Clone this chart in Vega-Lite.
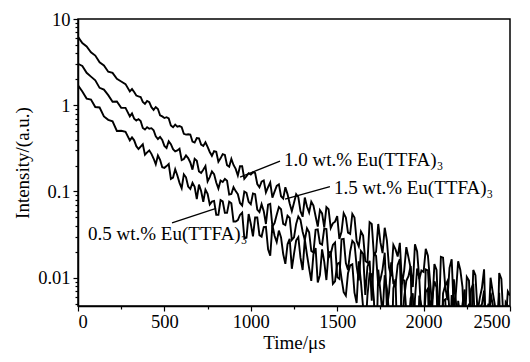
{
"$schema": "https://vega.github.io/schema/vega-lite/v6.json",
"width": 432, "height": 287,
"autosize": {"type": "none"},
"padding": {"left": 78, "top": 19, "right": 20, "bottom": 56},
"background": "white",
"config": {
  "view": {"stroke": "black", "strokeWidth": 1.5},
  "font": "Liberation Serif",
  "axis": {"grid": false, "domainColor": "black", "domainWidth": 1.5, "tickColor": "black", "tickWidth": 1.2, "labelColor": "black", "titleColor": "black", "labelFont": "Liberation Serif", "titleFont": "Liberation Serif", "labelFontSize": 18.5, "titleFontSize": 19, "titleFontWeight": "normal", "labelOverlap": false}
},
"datasets": {
"decay": [
{"s":"1.0","t":0,"v":6.22},{"s":"1.0","t":25,"v":5.26},{"s":"1.0","t":50,"v":4.81},{"s":"1.0","t":75,"v":4.115},{"s":"1.0","t":100,"v":3.763},{"s":"1.0","t":125,"v":3.153},{"s":"1.0","t":150,"v":2.897},{"s":"1.0","t":175,"v":2.447},{"s":"1.0","t":200,"v":2.373},{"s":"1.0","t":225,"v":2.021},{"s":"1.0","t":250,"v":1.883},{"s":"1.0","t":275,"v":1.759},{"s":"1.0","t":300,"v":1.448},{"s":"1.0","t":325,"v":1.424},{"s":"1.0","t":350,"v":1.265},{"s":"1.0","t":375,"v":1.093},{"s":"1.0","t":400,"v":1.12},{"s":"1.0","t":425,"v":0.949},{"s":"1.0","t":450,"v":0.953},{"s":"1.0","t":475,"v":0.765},{"s":"1.0","t":500,"v":0.711},{"s":"1.0","t":525,"v":0.703},{"s":"1.0","t":550,"v":0.556},{"s":"1.0","t":575,"v":0.565},{"s":"1.0","t":600,"v":0.557},{"s":"1.0","t":625,"v":0.457},{"s":"1.0","t":650,"v":0.457},{"s":"1.0","t":675,"v":0.369},{"s":"1.0","t":700,"v":0.414},{"s":"1.0","t":725,"v":0.338},{"s":"1.0","t":750,"v":0.329},{"s":"1.0","t":775,"v":0.259},{"s":"1.0","t":800,"v":0.289},{"s":"1.0","t":825,"v":0.242},{"s":"1.0","t":850,"v":0.265},{"s":"1.0","t":875,"v":0.194},{"s":"1.0","t":900,"v":0.203},{"s":"1.0","t":925,"v":0.153},{"s":"1.0","t":950,"v":0.196},{"s":"1.0","t":975,"v":0.15},{"s":"1.0","t":1000,"v":0.157},{"s":"1.0","t":1025,"v":0.164},{"s":"1.0","t":1050,"v":0.112},{"s":"1.0","t":1075,"v":0.134},{"s":"1.0","t":1100,"v":0.112},{"s":"1.0","t":1125,"v":0.085},{"s":"1.0","t":1150,"v":0.116},{"s":"1.0","t":1175,"v":0.088},{"s":"1.0","t":1200,"v":0.112},{"s":"1.0","t":1225,"v":0.0726},{"s":"1.0","t":1250,"v":0.0742},{"s":"1.0","t":1275,"v":0.0862},{"s":"1.0","t":1300,"v":0.0509},{"s":"1.0","t":1325,"v":0.0669},{"s":"1.0","t":1350,"v":0.0762},{"s":"1.0","t":1375,"v":0.0517},{"s":"1.0","t":1400,"v":0.0608},{"s":"1.0","t":1425,"v":0.0383},{"s":"1.0","t":1450,"v":0.0623},{"s":"1.0","t":1475,"v":0.0428},{"s":"1.0","t":1500,"v":0.052},{"s":"1.0","t":1525,"v":0.034},{"s":"1.0","t":1550,"v":0.05},{"s":"1.0","t":1575,"v":0.0322},{"s":"1.0","t":1600,"v":0.05},{"s":"1.0","t":1625,"v":0.0231},{"s":"1.0","t":1650,"v":0.0308},{"s":"1.0","t":1675,"v":0.015},{"s":"1.0","t":1700,"v":0.042},{"s":"1.0","t":1725,"v":0.02},{"s":"1.0","t":1750,"v":0.0258},{"s":"1.0","t":1775,"v":0.038},{"s":"1.0","t":1800,"v":0.0131},{"s":"1.0","t":1825,"v":0.024},{"s":"1.0","t":1850,"v":0.0176},{"s":"1.0","t":1875,"v":0.0084},{"s":"1.0","t":1900,"v":0.0226},{"s":"1.0","t":1925,"v":0.0129},{"s":"1.0","t":1950,"v":0.0244},{"s":"1.0","t":1975,"v":0.0096},{"s":"1.0","t":2000,"v":0.0117},{"s":"1.0","t":2025,"v":0.018},{"s":"1.0","t":2050,"v":0.0045},{"s":"1.0","t":2075,"v":0.0123},{"s":"1.0","t":2100,"v":0.0175},{"s":"1.0","t":2125,"v":0.008},{"s":"1.0","t":2150,"v":0.013},{"s":"1.0","t":2175,"v":0.0042},{"s":"1.0","t":2200,"v":0.0155},{"s":"1.0","t":2225,"v":0.0078},{"s":"1.0","t":2250,"v":0.0102},{"s":"1.0","t":2275,"v":0.0023},{"s":"1.0","t":2300,"v":0.0107},{"s":"1.0","t":2325,"v":0.0058},{"s":"1.0","t":2350,"v":0.0125},{"s":"1.0","t":2375,"v":0.0027},{"s":"1.0","t":2400,"v":0.0068},{"s":"1.0","t":2425,"v":0.001},{"s":"1.0","t":2450,"v":0.0097},{"s":"1.0","t":2475,"v":0.0031},{"s":"1.0","t":2500,"v":0.0062},
{"s":"1.0","t":312.5,"v":1.539},{"s":"1.0","t":337.5,"v":1.295},{"s":"1.0","t":362.5,"v":1.247},{"s":"1.0","t":387.5,"v":1.039},{"s":"1.0","t":412.5,"v":1.084},{"s":"1.0","t":437.5,"v":0.883},{"s":"1.0","t":462.5,"v":0.904},{"s":"1.0","t":487.5,"v":0.742},{"s":"1.0","t":512.5,"v":0.727},{"s":"1.0","t":537.5,"v":0.583},{"s":"1.0","t":562.5,"v":0.597},{"s":"1.0","t":587.5,"v":0.575},{"s":"1.0","t":612.5,"v":0.466},{"s":"1.0","t":637.5,"v":0.46},{"s":"1.0","t":662.5,"v":0.38},{"s":"1.0","t":687.5,"v":0.417},{"s":"1.0","t":712.5,"v":0.349},{"s":"1.0","t":737.5,"v":0.372},{"s":"1.0","t":762.5,"v":0.287},{"s":"1.0","t":787.5,"v":0.293},{"s":"1.0","t":812.5,"v":0.221},{"s":"1.0","t":837.5,"v":0.271},{"s":"1.0","t":862.5,"v":0.202},{"s":"1.0","t":887.5,"v":0.239},{"s":"1.0","t":912.5,"v":0.183},{"s":"1.0","t":937.5,"v":0.196},{"s":"1.0","t":962.5,"v":0.14},{"s":"1.0","t":987.5,"v":0.163},{"s":"1.0","t":1012.5,"v":0.167},{"s":"1.0","t":1037.5,"v":0.122},{"s":"1.0","t":1062.5,"v":0.13},{"s":"1.0","t":1087.5,"v":0.0977},{"s":"1.0","t":1112.5,"v":0.127},{"s":"1.0","t":1137.5,"v":0.0996},{"s":"1.0","t":1162.5,"v":0.121},{"s":"1.0","t":1187.5,"v":0.0827},{"s":"1.0","t":1212.5,"v":0.0932},{"s":"1.0","t":1237.5,"v":0.0591},{"s":"1.0","t":1262.5,"v":0.0931},{"s":"1.0","t":1287.5,"v":0.0591},{"s":"1.0","t":1312.5,"v":0.0851},{"s":"1.0","t":1337.5,"v":0.0572},{"s":"1.0","t":1362.5,"v":0.0685},{"s":"1.0","t":1387.5,"v":0.0392},{"s":"1.0","t":1412.5,"v":0.0556},{"s":"1.0","t":1437.5,"v":0.066},{"s":"1.0","t":1462.5,"v":0.0377},{"s":"1.0","t":1487.5,"v":0.0447},{"s":"1.0","t":1512.5,"v":0.0282},{"s":"1.0","t":1537.5,"v":0.056},{"s":"1.0","t":1562.5,"v":0.0333},{"s":"1.0","t":1587.5,"v":0.055},{"s":"1.0","t":1612.5,"v":0.0267},{"s":"1.0","t":1637.5,"v":0.0344},{"s":"1.0","t":1662.5,"v":0.0156},{"s":"1.0","t":1687.5,"v":0.044},{"s":"1.0","t":1712.5,"v":0.0182},{"s":"1.0","t":1737.5,"v":0.042},{"s":"1.0","t":1762.5,"v":0.0193},{"s":"1.0","t":1787.5,"v":0.0272},{"s":"1.0","t":1812.5,"v":0.0104},{"s":"1.0","t":1837.5,"v":0.0213},{"s":"1.0","t":1862.5,"v":0.0254},{"s":"1.0","t":1887.5,"v":0.0121},{"s":"1.0","t":1912.5,"v":0.0172},{"s":"1.0","t":1937.5,"v":0.0078},{"s":"1.0","t":1962.5,"v":0.0202},{"s":"1.0","t":1987.5,"v":0.0121},{"s":"1.0","t":2012.5,"v":0.0216},{"s":"1.0","t":2037.5,"v":0.0091},{"s":"1.0","t":2062.5,"v":0.0144},{"s":"1.0","t":2087.5,"v":0.0031},{"s":"1.0","t":2112.5,"v":0.0171},{"s":"1.0","t":2137.5,"v":0.0055},{"s":"1.0","t":2162.5,"v":0.0164},{"s":"1.0","t":2187.5,"v":0.0069},{"s":"1.0","t":2212.5,"v":0.0123},{"s":"1.0","t":2237.5,"v":0.002},{"s":"1.0","t":2262.5,"v":0.0093},{"s":"1.0","t":2287.5,"v":0.0123},{"s":"1.0","t":2312.5,"v":0.004},{"s":"1.0","t":2337.5,"v":0.0076},{"s":"1.0","t":2362.5,"v":0.0016},{"s":"1.0","t":2387.5,"v":0.01},{"s":"1.0","t":2412.5,"v":0.0048},{"s":"1.0","t":2437.5,"v":0.0113},{"s":"1.0","t":2462.5,"v":0.0032},{"s":"1.0","t":2487.5,"v":0.0069},
{"s":"1.5","t":0,"v":3.026},{"s":"1.5","t":25,"v":2.86},{"s":"1.5","t":50,"v":2.379},{"s":"1.5","t":75,"v":2.149},{"s":"1.5","t":100,"v":1.947},{"s":"1.5","t":125,"v":1.591},{"s":"1.5","t":150,"v":1.517},{"s":"1.5","t":175,"v":1.309},{"s":"1.5","t":200,"v":1.1},{"s":"1.5","t":225,"v":1.107},{"s":"1.5","t":250,"v":0.932},{"s":"1.5","t":275,"v":0.933},{"s":"1.5","t":300,"v":0.743},{"s":"1.5","t":325,"v":0.699},{"s":"1.5","t":350,"v":0.691},{"s":"1.5","t":375,"v":0.545},{"s":"1.5","t":400,"v":0.556},{"s":"1.5","t":425,"v":0.542},{"s":"1.5","t":450,"v":0.436},{"s":"1.5","t":475,"v":0.43},{"s":"1.5","t":500,"v":0.338},{"s":"1.5","t":525,"v":0.382},{"s":"1.5","t":550,"v":0.309},{"s":"1.5","t":575,"v":0.299},{"s":"1.5","t":600,"v":0.231},{"s":"1.5","t":625,"v":0.262},{"s":"1.5","t":650,"v":0.217},{"s":"1.5","t":675,"v":0.239},{"s":"1.5","t":700,"v":0.171},{"s":"1.5","t":725,"v":0.179},{"s":"1.5","t":750,"v":0.131},{"s":"1.5","t":775,"v":0.171},{"s":"1.5","t":800,"v":0.127},{"s":"1.5","t":825,"v":0.134},{"s":"1.5","t":850,"v":0.14},{"s":"1.5","t":875,"v":0.0921},{"s":"1.5","t":900,"v":0.112},{"s":"1.5","t":925,"v":0.093},{"s":"1.5","t":950,"v":0.0686},{"s":"1.5","t":975,"v":0.0964},{"s":"1.5","t":1000,"v":0.0711},{"s":"1.5","t":1025,"v":0.093},{"s":"1.5","t":1050,"v":0.0577},{"s":"1.5","t":1075,"v":0.0592},{"s":"1.5","t":1100,"v":0.0702},{"s":"1.5","t":1125,"v":0.0391},{"s":"1.5","t":1150,"v":0.0537},{"s":"1.5","t":1175,"v":0.0623},{"s":"1.5","t":1200,"v":0.0408},{"s":"1.5","t":1225,"v":0.0493},{"s":"1.5","t":1250,"v":0.0294},{"s":"1.5","t":1275,"v":0.0513},{"s":"1.5","t":1300,"v":0.0341},{"s":"1.5","t":1325,"v":0.0375},{"s":"1.5","t":1350,"v":0.0204},{"s":"1.5","t":1375,"v":0.0359},{"s":"1.5","t":1400,"v":0.025},{"s":"1.5","t":1425,"v":0.0371},{"s":"1.5","t":1450,"v":0.0171},{"s":"1.5","t":1475,"v":0.024},{"s":"1.5","t":1500,"v":0.0102},{"s":"1.5","t":1525,"v":0.0279},{"s":"1.5","t":1550,"v":0.0148},{"s":"1.5","t":1575,"v":0.0201},{"s":"1.5","t":1600,"v":0.025},{"s":"1.5","t":1625,"v":0.0093},{"s":"1.5","t":1650,"v":0.0189},{"s":"1.5","t":1675,"v":0.0134},{"s":"1.5","t":1700,"v":0.0054},{"s":"1.5","t":1725,"v":0.0179},{"s":"1.5","t":1750,"v":0.0095},{"s":"1.5","t":1775,"v":0.0195},{"s":"1.5","t":1800,"v":0.0067},{"s":"1.5","t":1825,"v":0.0086},{"s":"1.5","t":1850,"v":0.0141},{"s":"1.5","t":1875,"v":0.0025},{"s":"1.5","t":1900,"v":0.0092},{"s":"1.5","t":1925,"v":0.0137},{"s":"1.5","t":1950,"v":0.0057},{"s":"1.5","t":1975,"v":0.0099},{"s":"1.5","t":2000,"v":0.0024},{"s":"1.5","t":2025,"v":0.0122},{"s":"1.5","t":2050,"v":0.0057},{"s":"1.5","t":2075,"v":0.0077},{"s":"1.5","t":2100,"v":0.001},{"s":"1.5","t":2125,"v":0.0081},{"s":"1.5","t":2150,"v":0.004},{"s":"1.5","t":2175,"v":0.0096},{"s":"1.5","t":2200,"v":0.0014},{"s":"1.5","t":2225,"v":0.0049},{"s":"1.5","t":2250,"v":0.001},{"s":"1.5","t":2275,"v":0.0074},{"s":"1.5","t":2300,"v":0.0019},{"s":"1.5","t":2325,"v":0.0046},{"s":"1.5","t":2350,"v":0.0071},{"s":"1.5","t":2375,"v":0.001},{"s":"1.5","t":2400,"v":0.0049},{"s":"1.5","t":2425,"v":0.0026},{"s":"1.5","t":2450,"v":0.001},{"s":"1.5","t":2475,"v":0.0052},{"s":"1.5","t":2500,"v":0.0014},
{"s":"1.5","t":312.5,"v":0.804},{"s":"1.5","t":337.5,"v":0.664},{"s":"1.5","t":362.5,"v":0.656},{"s":"1.5","t":387.5,"v":0.522},{"s":"1.5","t":412.5,"v":0.535},{"s":"1.5","t":437.5,"v":0.513},{"s":"1.5","t":462.5,"v":0.406},{"s":"1.5","t":487.5,"v":0.396},{"s":"1.5","t":512.5,"v":0.32},{"s":"1.5","t":537.5,"v":0.353},{"s":"1.5","t":562.5,"v":0.292},{"s":"1.5","t":587.5,"v":0.313},{"s":"1.5","t":612.5,"v":0.238},{"s":"1.5","t":637.5,"v":0.244},{"s":"1.5","t":662.5,"v":0.179},{"s":"1.5","t":687.5,"v":0.227},{"s":"1.5","t":712.5,"v":0.164},{"s":"1.5","t":737.5,"v":0.197},{"s":"1.5","t":762.5,"v":0.147},{"s":"1.5","t":787.5,"v":0.159},{"s":"1.5","t":812.5,"v":0.108},{"s":"1.5","t":837.5,"v":0.129},{"s":"1.5","t":862.5,"v":0.133},{"s":"1.5","t":887.5,"v":0.0935},{"s":"1.5","t":912.5,"v":0.101},{"s":"1.5","t":937.5,"v":0.0736},{"s":"1.5","t":962.5,"v":0.0998},{"s":"1.5","t":987.5,"v":0.0759},{"s":"1.5","t":1012.5,"v":0.0949},{"s":"1.5","t":1037.5,"v":0.0618},{"s":"1.5","t":1062.5,"v":0.0713},{"s":"1.5","t":1087.5,"v":0.042},{"s":"1.5","t":1112.5,"v":0.0719},{"s":"1.5","t":1137.5,"v":0.043},{"s":"1.5","t":1162.5,"v":0.0659},{"s":"1.5","t":1187.5,"v":0.0422},{"s":"1.5","t":1212.5,"v":0.0525},{"s":"1.5","t":1237.5,"v":0.0274},{"s":"1.5","t":1262.5,"v":0.0421},{"s":"1.5","t":1287.5,"v":0.047},{"s":"1.5","t":1312.5,"v":0.0273},{"s":"1.5","t":1337.5,"v":0.0337},{"s":"1.5","t":1362.5,"v":0.0196},{"s":"1.5","t":1387.5,"v":0.0363},{"s":"1.5","t":1412.5,"v":0.0242},{"s":"1.5","t":1437.5,"v":0.0367},{"s":"1.5","t":1462.5,"v":0.0188},{"s":"1.5","t":1487.5,"v":0.0256},{"s":"1.5","t":1512.5,"v":0.0097},{"s":"1.5","t":1537.5,"v":0.0282},{"s":"1.5","t":1562.5,"v":0.0123},{"s":"1.5","t":1587.5,"v":0.0267},{"s":"1.5","t":1612.5,"v":0.0135},{"s":"1.5","t":1637.5,"v":0.0204},{"s":"1.5","t":1662.5,"v":0.0063},{"s":"1.5","t":1687.5,"v":0.0157},{"s":"1.5","t":1712.5,"v":0.0193},{"s":"1.5","t":1737.5,"v":0.0081},{"s":"1.5","t":1762.5,"v":0.0125},{"s":"1.5","t":1787.5,"v":0.0045},{"s":"1.5","t":1812.5,"v":0.0151},{"s":"1.5","t":1837.5,"v":0.0083},{"s":"1.5","t":1862.5,"v":0.0164},{"s":"1.5","t":1887.5,"v":0.0059},{"s":"1.5","t":1912.5,"v":0.0104},{"s":"1.5","t":1937.5,"v":0.0011},{"s":"1.5","t":1962.5,"v":0.0128},{"s":"1.5","t":1987.5,"v":0.0032},{"s":"1.5","t":2012.5,"v":0.0125},{"s":"1.5","t":2037.5,"v":0.0046},{"s":"1.5","t":2062.5,"v":0.0091},{"s":"1.5","t":2087.5,"v":0.001},{"s":"1.5","t":2112.5,"v":0.0066},{"s":"1.5","t":2137.5,"v":0.0091},{"s":"1.5","t":2162.5,"v":0.0022},{"s":"1.5","t":2187.5,"v":0.0052},{"s":"1.5","t":2212.5,"v":0.001},{"s":"1.5","t":2237.5,"v":0.0073},{"s":"1.5","t":2262.5,"v":0.0031},{"s":"1.5","t":2287.5,"v":0.0085},{"s":"1.5","t":2312.5,"v":0.0018},{"s":"1.5","t":2337.5,"v":0.0049},{"s":"1.5","t":2362.5,"v":0.001},{"s":"1.5","t":2387.5,"v":0.0067},{"s":"1.5","t":2412.5,"v":0.001},{"s":"1.5","t":2437.5,"v":0.0067},{"s":"1.5","t":2462.5,"v":0.0016},{"s":"1.5","t":2487.5,"v":0.0047},
{"s":"0.5","t":0,"v":1.699},{"s":"0.5","t":25,"v":1.444},{"s":"0.5","t":50,"v":1.194},{"s":"0.5","t":75,"v":1.164},{"s":"0.5","t":100,"v":0.954},{"s":"0.5","t":125,"v":0.942},{"s":"0.5","t":150,"v":0.742},{"s":"0.5","t":175,"v":0.678},{"s":"0.5","t":200,"v":0.652},{"s":"0.5","t":225,"v":0.503},{"s":"0.5","t":250,"v":0.506},{"s":"0.5","t":275,"v":0.493},{"s":"0.5","t":300,"v":0.392},{"s":"0.5","t":325,"v":0.392},{"s":"0.5","t":350,"v":0.311},{"s":"0.5","t":375,"v":0.353},{"s":"0.5","t":400,"v":0.284},{"s":"0.5","t":425,"v":0.273},{"s":"0.5","t":450,"v":0.207},{"s":"0.5","t":475,"v":0.233},{"s":"0.5","t":500,"v":0.188},{"s":"0.5","t":525,"v":0.208},{"s":"0.5","t":550,"v":0.145},{"s":"0.5","t":575,"v":0.153},{"s":"0.5","t":600,"v":0.109},{"s":"0.5","t":625,"v":0.146},{"s":"0.5","t":650,"v":0.107},{"s":"0.5","t":675,"v":0.113},{"s":"0.5","t":700,"v":0.12},{"s":"0.5","t":725,"v":0.0759},{"s":"0.5","t":750,"v":0.094},{"s":"0.5","t":775,"v":0.0763},{"s":"0.5","t":800,"v":0.0537},{"s":"0.5","t":825,"v":0.0793},{"s":"0.5","t":850,"v":0.0566},{"s":"0.5","t":875,"v":0.0763},{"s":"0.5","t":900,"v":0.0448},{"s":"0.5","t":925,"v":0.0466},{"s":"0.5","t":950,"v":0.0568},{"s":"0.5","t":975,"v":0.0291},{"s":"0.5","t":1000,"v":0.0422},{"s":"0.5","t":1025,"v":0.0499},{"s":"0.5","t":1050,"v":0.0312},{"s":"0.5","t":1075,"v":0.0387},{"s":"0.5","t":1100,"v":0.0214},{"s":"0.5","t":1125,"v":0.0409},{"s":"0.5","t":1150,"v":0.0259},{"s":"0.5","t":1175,"v":0.0293},{"s":"0.5","t":1200,"v":0.0145},{"s":"0.5","t":1225,"v":0.0283},{"s":"0.5","t":1250,"v":0.0189},{"s":"0.5","t":1275,"v":0.0295},{"s":"0.5","t":1300,"v":0.0123},{"s":"0.5","t":1325,"v":0.0185},{"s":"0.5","t":1350,"v":0.0092},{"s":"0.5","t":1375,"v":0.0221},{"s":"0.5","t":1400,"v":0.0107},{"s":"0.5","t":1425,"v":0.0154},{"s":"0.5","t":1450,"v":0.0196},{"s":"0.5","t":1475,"v":0.0085},{"s":"0.5","t":1500,"v":0.0145},{"s":"0.5","t":1525,"v":0.0098},{"s":"0.5","t":1550,"v":0.0062},{"s":"0.5","t":1575,"v":0.0139},{"s":"0.5","t":1600,"v":0.0067},{"s":"0.5","t":1625,"v":0.0155},{"s":"0.5","t":1650,"v":0.0045},{"s":"0.5","t":1675,"v":0.0062},{"s":"0.5","t":1700,"v":0.011},{"s":"0.5","t":1725,"v":0.001},{"s":"0.5","t":1750,"v":0.0069},{"s":"0.5","t":1775,"v":0.0107},{"s":"0.5","t":1800,"v":0.0039},{"s":"0.5","t":1825,"v":0.0075},{"s":"0.5","t":1850,"v":0.0012},{"s":"0.5","t":1875,"v":0.0095},{"s":"0.5","t":1900,"v":0.004},{"s":"0.5","t":1925,"v":0.0058},{"s":"0.5","t":1950,"v":0.001},{"s":"0.5","t":1975,"v":0.0062},{"s":"0.5","t":2000,"v":0.0027},{"s":"0.5","t":2025,"v":0.0075},{"s":"0.5","t":2050,"v":0.001},{"s":"0.5","t":2075,"v":0.0035},{"s":"0.5","t":2100,"v":0.001},{"s":"0.5","t":2125,"v":0.0056},{"s":"0.5","t":2150,"v":0.0011},{"s":"0.5","t":2175,"v":0.0033},{"s":"0.5","t":2200,"v":0.0054},{"s":"0.5","t":2225,"v":0.001},{"s":"0.5","t":2250,"v":0.0036},{"s":"0.5","t":2275,"v":0.0017},{"s":"0.5","t":2300,"v":0.001},{"s":"0.5","t":2325,"v":0.0039},{"s":"0.5","t":2350,"v":0.001},{"s":"0.5","t":2375,"v":0.005},{"s":"0.5","t":2400,"v":0.001},{"s":"0.5","t":2425,"v":0.001},{"s":"0.5","t":2450,"v":0.0033},{"s":"0.5","t":2475,"v":0.001},{"s":"0.5","t":2500,"v":0.0017},
{"s":"0.5","t":312.5,"v":0.424},{"s":"0.5","t":337.5,"v":0.335},{"s":"0.5","t":362.5,"v":0.332},{"s":"0.5","t":387.5,"v":0.267},{"s":"0.5","t":412.5,"v":0.299},{"s":"0.5","t":437.5,"v":0.241},{"s":"0.5","t":462.5,"v":0.261},{"s":"0.5","t":487.5,"v":0.191},{"s":"0.5","t":512.5,"v":0.197},{"s":"0.5","t":537.5,"v":0.14},{"s":"0.5","t":562.5,"v":0.181},{"s":"0.5","t":587.5,"v":0.126},{"s":"0.5","t":612.5,"v":0.158},{"s":"0.5","t":637.5,"v":0.114},{"s":"0.5","t":662.5,"v":0.126},{"s":"0.5","t":687.5,"v":0.0816},{"s":"0.5","t":712.5,"v":0.101},{"s":"0.5","t":737.5,"v":0.105},{"s":"0.5","t":762.5,"v":0.0708},{"s":"0.5","t":787.5,"v":0.0777},{"s":"0.5","t":812.5,"v":0.0536},{"s":"0.5","t":837.5,"v":0.0766},{"s":"0.5","t":862.5,"v":0.0565},{"s":"0.5","t":887.5,"v":0.073},{"s":"0.5","t":912.5,"v":0.0449},{"s":"0.5","t":937.5,"v":0.0535},{"s":"0.5","t":962.5,"v":0.0288},{"s":"0.5","t":987.5,"v":0.0547},{"s":"0.5","t":1012.5,"v":0.0301},{"s":"0.5","t":1037.5,"v":0.05},{"s":"0.5","t":1062.5,"v":0.03},{"s":"0.5","t":1087.5,"v":0.0389},{"s":"0.5","t":1112.5,"v":0.018},{"s":"0.5","t":1137.5,"v":0.0307},{"s":"0.5","t":1162.5,"v":0.0352},{"s":"0.5","t":1187.5,"v":0.0188},{"s":"0.5","t":1212.5,"v":0.0244},{"s":"0.5","t":1237.5,"v":0.0127},{"s":"0.5","t":1262.5,"v":0.0272},{"s":"0.5","t":1287.5,"v":0.0171},{"s":"0.5","t":1312.5,"v":0.0279},{"s":"0.5","t":1337.5,"v":0.0129},{"s":"0.5","t":1362.5,"v":0.0188},{"s":"0.5","t":1387.5,"v":0.0088},{"s":"0.5","t":1412.5,"v":0.0213},{"s":"0.5","t":1437.5,"v":0.0094},{"s":"0.5","t":1462.5,"v":0.02},{"s":"0.5","t":1487.5,"v":0.0091},{"s":"0.5","t":1512.5,"v":0.0149},{"s":"0.5","t":1537.5,"v":0.0068},{"s":"0.5","t":1562.5,"v":0.0113},{"s":"0.5","t":1587.5,"v":0.0143},{"s":"0.5","t":1612.5,"v":0.0051},{"s":"0.5","t":1637.5,"v":0.0089},{"s":"0.5","t":1662.5,"v":0.0023},{"s":"0.5","t":1687.5,"v":0.0112},{"s":"0.5","t":1712.5,"v":0.0056},{"s":"0.5","t":1737.5,"v":0.0124},{"s":"0.5","t":1762.5,"v":0.0037},{"s":"0.5","t":1787.5,"v":0.0075},{"s":"0.5","t":1812.5,"v":0.001},{"s":"0.5","t":1837.5,"v":0.0096},{"s":"0.5","t":1862.5,"v":0.0016},{"s":"0.5","t":1887.5,"v":0.0093},{"s":"0.5","t":1912.5,"v":0.0028},{"s":"0.5","t":1937.5,"v":0.0066},{"s":"0.5","t":1962.5,"v":0.001},{"s":"0.5","t":1987.5,"v":0.0047},{"s":"0.5","t":2012.5,"v":0.0068},{"s":"0.5","t":2037.5,"v":0.0011},{"s":"0.5","t":2062.5,"v":0.0036},{"s":"0.5","t":2087.5,"v":0.001},{"s":"0.5","t":2112.5,"v":0.0054},{"s":"0.5","t":2137.5,"v":0.0019},{"s":"0.5","t":2162.5,"v":0.0063},{"s":"0.5","t":2187.5,"v":0.001},{"s":"0.5","t":2212.5,"v":0.0035},{"s":"0.5","t":2237.5,"v":0.001},{"s":"0.5","t":2262.5,"v":0.005},{"s":"0.5","t":2287.5,"v":0.001},{"s":"0.5","t":2312.5,"v":0.005},{"s":"0.5","t":2337.5,"v":0.001},{"s":"0.5","t":2362.5,"v":0.0034},{"s":"0.5","t":2387.5,"v":0.001},{"s":"0.5","t":2412.5,"v":0.0022},{"s":"0.5","t":2437.5,"v":0.0037},{"s":"0.5","t":2462.5,"v":0.001},{"s":"0.5","t":2487.5,"v":0.0017}
],
"labels": [
{"label":"1.0 wt.% Eu(TTFA)₃","t":1192,"v":0.23},
{"label":"1.5 wt.% Eu(TTFA)₃","t":1481,"v":0.11},
{"label":"0.5 wt.% Eu(TTFA)₃","t":58,"v":0.0323}
],
"arrows": [
{"t":1169,"v":0.225,"t2":938,"v2":0.147},
{"t":1458,"v":0.114,"t2":1198,"v2":0.0818},
{"t":544,"v":0.0432,"t2":799,"v2":0.0635}
]
},
"layer": [
{
  "data": {"name": "decay"},
  "mark": {"type": "line", "color": "black", "strokeWidth": 1.9, "clip": true},
  "encoding": {
    "x": {"field": "t", "type": "quantitative", "scale": {"domain": [0, 2500], "nice": false},
      "axis": {"title": "Time/μs", "values": [0,250,500,750,1000,1250,1500,1750,2000,2250,2500], "format": "d",
        "labelExpr": "datum.value % 500 == 0 ? datum.label : ''",
        "tickSize": {"condition": {"test": "datum.value % 500 == 0", "value": 5}, "value": 3},
        "labelPadding": 1, "titlePadding": 3}},
    "y": {"field": "v", "type": "quantitative", "scale": {"type": "log", "domain": [0.0047, 10], "nice": false},
      "axis": {"title": "Intensity/(a.u.)",
        "values": [0.005,0.006,0.007,0.008,0.009,0.01,0.02,0.03,0.04,0.05,0.06,0.07,0.08,0.09,0.1,0.2,0.3,0.4,0.5,0.6,0.7,0.8,0.9,1,2,3,4,5,6,7,8,9,10],
        "labelExpr": "datum.value == 10 ? '10' : datum.value == 1 ? '1' : datum.value == 0.1 ? '0.1' : datum.value == 0.01 ? '0.01' : ''",
        "tickSize": {"condition": {"test": "datum.value == 10 || datum.value == 1 || datum.value == 0.1 || datum.value == 0.01", "value": 5}, "value": 3},
        "labelPadding": 3, "titlePadding": 5}},
    "detail": {"field": "s"}
  }
},
{
  "data": {"name": "arrows"},
  "mark": {"type": "rule", "color": "black", "strokeWidth": 1.3},
  "encoding": {
    "x": {"field": "t", "type": "quantitative"},
    "y": {"field": "v", "type": "quantitative"},
    "x2": {"field": "t2"},
    "y2": {"field": "v2"}
  }
},
{
  "data": {"name": "labels"},
  "mark": {"type": "text", "align": "left", "baseline": "middle", "fontSize": 19, "font": "Liberation Serif", "color": "black"},
  "encoding": {
    "x": {"field": "t", "type": "quantitative"},
    "y": {"field": "v", "type": "quantitative"},
    "text": {"field": "label"}
  }
}
]
}
